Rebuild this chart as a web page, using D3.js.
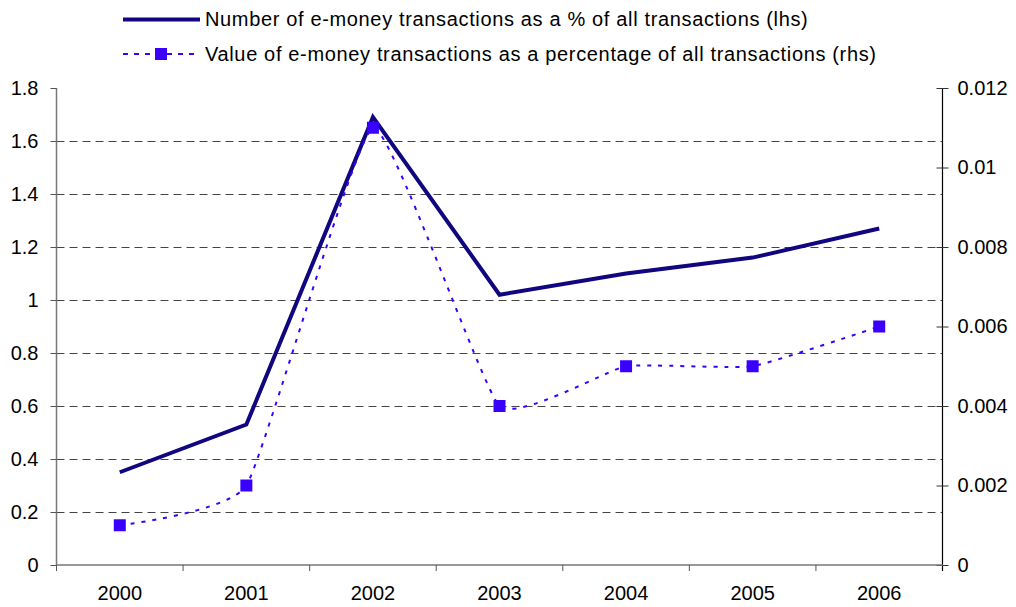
<!DOCTYPE html>
<html>
<head>
<meta charset="utf-8">
<script src="https://cdn.jsdelivr.net/npm/d3@7"></script>
<style>
  body { margin: 0; background: #fff; }
  svg text { font-family: "Liberation Sans", Arial, sans-serif; fill: #000; }
</style>
</head>
<body>
<script>
// data
var years = ["2000", "2001", "2002", "2003", "2004", "2005", "2006"];
var numberShare = [0.35, 0.53, 1.69, 1.02, 1.10, 1.16, 1.27]; // lhs
var valueShare = [0.001, 0.002, 0.011, 0.004, 0.005, 0.005, 0.006]; // rhs
var leftTicks = [0, 0.2, 0.4, 0.6, 0.8, 1, 1.2, 1.4, 1.6, 1.8];
var rightTicks = [0, 0.002, 0.004, 0.006, 0.008, 0.01, 0.012];
var seriesNames = [
  "Number of e-money transactions as a % of all transactions (lhs)",
  "Value of e-money transactions as a percentage of all transactions (rhs)"
];

var width = 1016, height = 607;
var plot = { left: 56.5, right: 942.5, top: 88, bottom: 565 };
var fontSize = 20;
var navy = "#10067f", violet = "#3a00ff";

var svg = d3.select("body").append("svg")
  .attr("width", width)
  .attr("height", height);

var x = d3.scaleBand().domain(years).range([plot.left, plot.right]);
var yL = d3.scaleLinear().domain([0, 1.8]).range([plot.bottom, plot.top]);
var yR = d3.scaleLinear().domain([0, 0.012]).range([plot.bottom, plot.top]);

// dashed gridlines (not at 0 or top)
svg.append("g")
  .selectAll("line")
  .data(leftTicks.filter(function (t) { return t > 0 && t < 1.8; }))
  .enter()
  .append("line")
  .attr("x1", plot.left)
  .attr("x2", plot.right)
  .attr("y1", function (d) { return Math.round(yL(d)) + 0.5; })
  .attr("y2", function (d) { return Math.round(yL(d)) + 0.5; })
  .attr("stroke", "#444")
  .attr("stroke-width", 1)
  .attr("stroke-dasharray", "8,5");

// left axis
var leftAxis = d3.axisLeft(yL)
  .tickValues(leftTicks)
  .tickFormat(function (d) { return String(+d.toFixed(1)); })
  .tickSize(6)
  .tickPadding(12);
var gL = svg.append("g")
  .attr("transform", "translate(" + plot.left + ",0)")
  .call(leftAxis);
gL.select(".domain").attr("stroke", "#777").attr("stroke-width", 1.5)
  .attr("d", "M0," + plot.top + "V" + plot.bottom);
gL.selectAll(".tick line").attr("stroke", "#555");
gL.selectAll("text").style("font-size", fontSize + "px");

// right axis, ticks cross the line
var rightAxis = d3.axisRight(yR)
  .tickValues(rightTicks)
  .tickFormat(function (d) { return d === 0 ? "0" : String(+d.toFixed(3)); })
  .tickSize(6)
  .tickPadding(9);
var gR = svg.append("g")
  .attr("transform", "translate(" + plot.right + ",0)")
  .call(rightAxis);
gR.select(".domain").attr("stroke", "#000").attr("stroke-width", 1.2)
  .attr("d", "M0," + plot.top + "V" + (plot.bottom + 6));
gR.selectAll(".tick line").attr("x1", -6).attr("stroke", "#333");
gR.selectAll("text").style("font-size", fontSize + "px");

// x axis with ticks between categories
var xAxis = d3.axisBottom(x).tickSize(0).tickPadding(21);
var gX = svg.append("g")
  .attr("transform", "translate(0," + plot.bottom + ")")
  .call(xAxis);
gX.select(".domain").attr("stroke", "#777").attr("stroke-width", 1.5)
  .attr("d", "M" + plot.left + ",0H" + plot.right);
gX.selectAll("text").style("font-size", fontSize + "px");
gX.selectAll(".sep")
  .data(years)
  .enter()
  .append("line")
  .attr("class", "sep")
  .attr("x1", function (d) { return x(d); })
  .attr("x2", function (d) { return x(d); })
  .attr("y1", 0)
  .attr("y2", 6)
  .attr("stroke", "#555");

// series 1: solid navy line on left scale
var line1 = d3.line()
  .x(function (d, i) { return x(years[i]) + x.bandwidth() / 2; })
  .y(function (d) { return yL(d); });
svg.append("path")
  .datum(numberShare)
  .attr("d", line1)
  .attr("fill", "none")
  .attr("stroke", navy)
  .attr("stroke-width", 4);

// series 2: dotted, lightly smoothed line with squares on right scale
var line2 = d3.line()
  .x(function (d, i) { return x(years[i]) + x.bandwidth() / 2; })
  .y(function (d) { return yR(d); })
  .curve(d3.curveCardinal.tension(0.6));
svg.append("path")
  .datum(valueShare)
  .attr("d", line2)
  .attr("fill", "none")
  .attr("stroke", violet)
  .attr("stroke-width", 2)
  .attr("stroke-dasharray", "4,7");
svg.append("g")
  .selectAll("rect")
  .data(valueShare)
  .enter()
  .append("rect")
  .attr("x", function (d, i) { return x(years[i]) + x.bandwidth() / 2 - 6; })
  .attr("y", function (d) { return yR(d) - 6; })
  .attr("width", 12)
  .attr("height", 12)
  .attr("fill", violet);

// legend
var legend = svg.append("g");
legend.append("line")
  .attr("x1", 123).attr("x2", 200)
  .attr("y1", 19.5).attr("y2", 19.5)
  .attr("stroke", navy).attr("stroke-width", 4);
legend.append("line")
  .attr("x1", 123).attr("x2", 200)
  .attr("y1", 54).attr("y2", 54)
  .attr("stroke", violet).attr("stroke-width", 2)
  .attr("stroke-dasharray", "5,6");
legend.append("rect")
  .attr("x", 155).attr("y", 48).attr("width", 12).attr("height", 12)
  .attr("fill", violet);
legend.selectAll("text")
  .data(seriesNames)
  .enter()
  .append("text")
  .attr("x", 205)
  .attr("y", function (d, i) { return 26 + i * 35; })
  .style("font-size", fontSize + "px")
  .style("letter-spacing", "0.65px")
  .text(function (d) { return d; });
</script>
</body>
</html>
